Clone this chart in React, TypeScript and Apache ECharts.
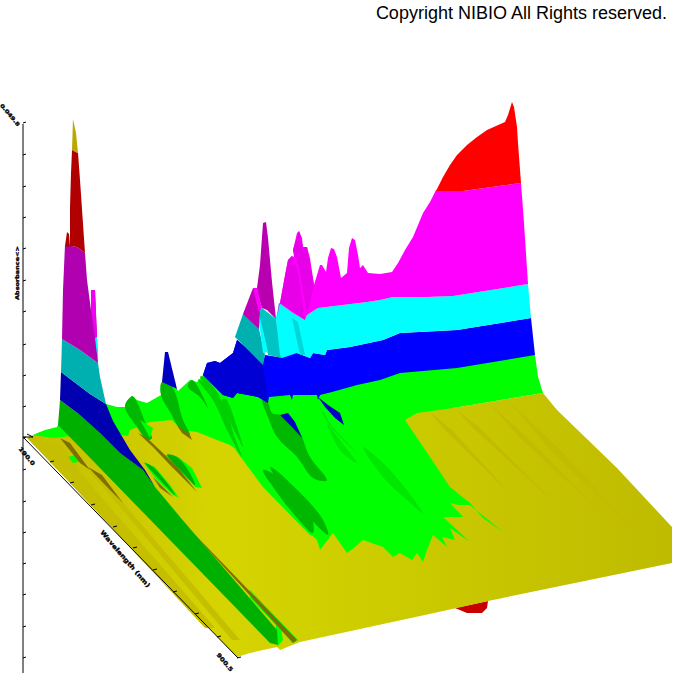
import React, { useEffect, useRef } from "react";
import * as echarts from "echarts";

type P = [number, number][];

// Outlines, in the picture's projected plane
const undersideRed: P = [[455,608],[488,601],[487,608],[482,613],[467,613]];
const floor: P = [[27,438],[237,657],[250,653],[277,647],[280,650],[300,642],[457,608],[488,601],[672,563],[672,527],[617,468],[557,410],[543,393],[453,408],[300,400],[100,420],[40,432]];
const floorStreaks: P[] = [
  [[457,410],[480,428],[552,500],[550,499],[472,427]],
  [[430,412],[452,430],[505,488],[502,486],[445,430]],
  [[490,404],[530,440],[600,512],[598,510],[520,438]],
  [[510,402],[560,450],[640,535],[636,532],[550,450]],
];
const leftFloorShade: P[] = [
  [[88,470],[102,478],[240,640],[232,640],[110,495]],
  [[30,440],[60,445],[95,490],[215,628],[205,628]],
];
const greenBase: P = [[33,435],[45,430],[57,427],[59,422],[106,404],[117,407],[126,407],[132,396],[137,400],[147,403],[161,395],[162,382],[177,389],[178,391],[190,380],[197,382],[203,375],[300,360],[535,355],[538,377],[543,393],[453,408],[417,413],[405,420],[430,457],[450,487],[470,503],[483,518],[503,532],[470,505],[458,505],[450,503],[463,517],[443,517],[470,542],[457,533],[450,528],[455,540],[442,537],[447,547],[433,535],[427,550],[423,562],[417,553],[412,560],[400,553],[393,557],[383,547],[363,540],[355,547],[347,553],[333,533],[320,550],[317,540],[293,517],[263,483],[237,450],[230,445],[217,440],[197,432],[182,430],[172,420],[150,422],[130,430],[128,436],[100,432],[63,437],[53,438]];
const olivePatch: P = [[233,445],[263,478],[317,537],[310,535],[263,487],[237,452]];
const blueBand: P = [[203,375],[207,363],[215,361],[220,363],[233,353],[237,340],[263,362],[265,355],[278,357],[282,353],[297,353],[310,358],[313,353],[325,355],[327,350],[350,347],[383,340],[400,333],[457,330],[531,318],[535,355],[457,368],[400,373],[380,380],[357,385],[332,392],[328,393],[320,395],[318,400],[317,395],[293,395],[292,400],[290,395],[269,397],[268,403],[258,397],[237,393],[233,398],[223,395]];
const blueShade: P = [[203,375],[207,363],[215,361],[220,363],[233,353],[237,340],[263,362],[268,403],[258,397],[237,393],[233,398],[223,395]];
const cyanBand: P = [[276,318],[279,303],[293,313],[305,320],[307,315],[318,308],[367,302],[380,300],[393,297],[427,297],[453,296],[528,284],[531,318],[457,330],[400,333],[383,340],[350,347],[327,350],[325,355],[313,353],[310,358],[297,353],[282,358],[278,357]];
const cyanStreak: P = [[292,318],[298,322],[305,355],[300,355]];
const tealBand: P = [[235,337],[243,314],[258,315],[259,329],[265,355],[263,365]];
const tealPeak: P = [[258,313],[262,308],[276,319],[280,355],[282,358],[268,355],[263,332]];
const cyanSliver: P = [[258,315],[263,353],[268,352],[260,318]];
const magentaBand: P = [[277,318],[280,303],[285,275],[288,260],[292,256],[294,257],[293,250],[297,233],[299,231],[302,238],[303,247],[307,247],[310,258],[314,285],[320,265],[322,265],[326,272],[328,258],[331,248],[334,249],[337,257],[341,278],[347,273],[349,248],[352,238],[355,240],[358,255],[360,268],[363,265],[368,273],[380,274],[392,272],[398,263],[405,250],[413,237],[423,213],[430,202],[436,190],[463,191],[521,183],[524,223],[528,284],[453,296],[427,297],[393,297],[380,300],[367,302],[318,308],[307,315],[305,320],[293,313],[279,303]];
const magentaShades: P[] = [
  [[280,303],[288,260],[292,256],[298,272],[305,320],[288,308]],
  [[293,250],[299,231],[303,247],[307,247],[314,285],[307,315],[300,272]],
];
const magentaHump: P = [[243,314],[253,288],[257,288],[260,305],[259,329]];
const magentaPeak: P = [[257,288],[260,265],[263,223],[266,222],[268,238],[272,282],[276,319],[267,310],[262,308],[258,295]];
const magentaEdge: P = [[253,288],[257,288],[262,308],[259,312]];
const redCap: P = [[436,191],[443,177],[450,165],[457,155],[467,145],[477,137],[487,130],[505,122],[508,115],[512,102],[514,107],[517,127],[518,143],[521,183],[463,191]];
const ridgeDark: P[] = [
  [[125,407],[132,396],[137,402],[147,427],[152,438],[147,440],[137,427]],
  [[161,395],[162,382],[173,388],[183,420],[190,435],[182,432],[170,412]],
  [[188,387],[192,380],[198,387],[208,408],[200,397]],
  [[262,400],[268,403],[272,413],[280,415],[297,427],[310,457],[327,480],[313,478],[297,457],[277,437],[268,417]],
  [[263,470],[283,480],[307,503],[313,533],[293,513],[273,487]],
  [[270,467],[285,478],[320,515],[328,535],[305,513],[283,488]],
];
const ridgeMid: P[] = [
  [[198,380],[205,383],[223,403],[235,438],[242,457],[227,430],[213,400]],
  [[200,377],[205,377],[220,397],[213,392]],
  [[222,400],[227,400],[237,427],[243,447],[238,438],[228,417]],
];
const ridgeFaint: P[] = [
  [[320,407],[333,427],[357,453],[343,440],[328,423]],
  [[363,447],[390,470],[423,513],[407,500],[383,477]],
  [[327,423],[340,440],[357,463],[340,450]],
];
const blueSpike: P = [[162,382],[165,352],[168,352],[177,389]];
const blueIslands: P[] = [
  [[280,415],[288,413],[295,422],[302,438],[292,427]],
  [[318,397],[328,405],[340,413],[344,425],[335,418],[325,407]],
];
const greenFringes: P[] = [
  [[143,462],[155,467],[170,485],[179,498],[173,495],[157,480]],
  [[165,455],[178,457],[192,468],[202,488],[195,487],[180,470]],
  [[90,452],[95,453],[120,480],[130,497],[110,477]],
  [[155,487],[180,517],[176,517],[155,492]],
  [[250,590],[298,640],[293,643],[250,598]],
  [[277,647],[283,640],[280,623],[275,620],[278,645]],
  [[68,457],[75,455],[79,462],[73,463]],
  [[140,420],[150,438],[153,428]],
];
const greenBlobs: P[] = [
  [[145,463],[153,467],[167,483],[175,495],[162,482]],
  [[167,455],[177,457],[188,470],[195,485],[183,473]],
];
const brownShadows: P[] = [
  [[60,438],[70,443],[90,470],[80,463]],
  [[138,433],[147,438],[165,455],[180,470],[197,492],[190,485],[170,465],[153,447]],
  [[177,425],[190,435],[192,440],[182,433]],
  [[145,465],[153,477],[173,497],[160,488]],
  [[88,467],[102,475],[123,503],[110,490]],
  [[190,530],[207,547],[297,640],[293,643],[233,577]],
];
const mainStrip: P = [[60,400],[80,415],[100,433],[120,453],[143,470],[155,487],[180,517],[277,630],[278,645],[270,643],[63,430],[58,425]];
const spikeBlue: P = [[61,372],[90,394],[106,404],[113,421],[120,433],[130,450],[145,470],[155,487],[143,470],[120,453],[100,433],[80,415],[60,400]];
const spikeTeal: P = [[62,339],[80,350],[98,363],[100,377],[106,404],[90,394],[61,372]];
const spikeMagenta: P = [[65,245],[77,247],[85,253],[87,280],[91,310],[91,290],[95,290],[97,337],[98,363],[80,350],[62,339],[63,290]];
const spikeMagentaEdge: P = [[91,310],[91,290],[95,290],[97,337],[95,338]];
const spikeCyan: P = [[95,338],[97,337],[98,363]];
const spikeRed: P = [[72,150],[78,153],[80,180],[85,253],[77,247],[70,246],[70,207],[71,173]];
const spikeRedShoulder: P = [[65,246],[67,232],[69,234],[70,247]];
const spikeOlive: P = [[73,119],[76,133],[78,153],[72,150]];

const layers: { outline: P; paint: string; round?: boolean }[] = [
  { outline: undersideRed, paint: "#c80000" },
  { outline: floor, paint: "floor" },
  ...leftFloorShade.map((outline) => ({ outline, paint: "#c6be00" })),
  ...floorStreaks.map((outline) => ({ outline, paint: "#c2bc00" })),
  { outline: greenBase, paint: "#00ff00" },
  { outline: olivePatch, paint: "#00ff00" },
  ...ridgeFaint.map((outline) => ({ outline, paint: "#00e800", round: true })),
  ...ridgeMid.map((outline) => ({ outline, paint: "#00d000", round: true })),
  ...ridgeDark.map((outline) => ({ outline, paint: "#00b800", round: true })),
  { outline: blueBand, paint: "#0000ff" },
  { outline: blueShade, paint: "#0000d4" },
  { outline: cyanBand, paint: "#00ffff" },
  { outline: cyanStreak, paint: "#00d8d8" },
  { outline: tealBand, paint: "#00b0b0" },
  { outline: tealPeak, paint: "#00c4c4" },
  { outline: cyanSliver, paint: "#00ffff" },
  { outline: magentaBand, paint: "#ff00ff" },
  ...magentaShades.map((outline) => ({ outline, paint: "#e800e8" })),
  { outline: magentaHump, paint: "#c000b8" },
  { outline: magentaPeak, paint: "#b800b0" },
  { outline: magentaEdge, paint: "#ff00ff" },
  { outline: redCap, paint: "#ff0000" },
  { outline: blueSpike, paint: "#0000c0" },
  ...blueIslands.map((outline) => ({ outline, paint: "#0000c0" })),
  ...greenFringes.map((outline) => ({ outline, paint: "#00ff00" })),
  ...greenBlobs.map((outline) => ({ outline, paint: "#00b000", round: true })),
  ...brownShadows.map((outline) => ({ outline, paint: "#7d7000" })),
  { outline: mainStrip, paint: "#00b000" },
  { outline: spikeBlue, paint: "#0000b0" },
  { outline: spikeTeal, paint: "#00b0b0" },
  { outline: spikeMagenta, paint: "#b000b0" },
  { outline: spikeMagentaEdge, paint: "#f000f0" },
  { outline: spikeCyan, paint: "#00ffff" },
  { outline: spikeRed, paint: "#b00000" },
  { outline: spikeRedShoulder, paint: "#b00000" },
  { outline: spikeOlive, paint: "#b8a800" },
];

const axisLines: P[] = [
  [[23,124],[23,673]],
  [[23,437],[238,658]],
  [[23,437],[33,437]],
  [[27,434],[33,437]],
];
const verticalTicks: number[] = [123,155,187,218,249,281,312,345,376,407,438,470,502,533,564,595,627,658];
const depthTicks: P = [[50,462],[70,483],[91,505],[113,527],[133,548],[153,570],[173,592],[195,614],[217,637],[237,658]];

const copyright = "Copyright NIBIO All Rights reserved.";
const topLabel = "0.049.8";
const yTitle = "Absorbance<>";
const xTitle = "Wavelength (nm)";
const xStartLabel = "190.0";
const xEndLabel = "900.5";

const W = 673;

export default function App() {
  const ref = useRef<HTMLDivElement>(null);
  useEffect(() => {
    const chart = echarts.init(ref.current!, null, { renderer: "svg" });
    const floorFill = new echarts.graphic.LinearGradient(0, 0, 1, 0, [
      { offset: 0, color: "#c4be00" },
      { offset: 0.3, color: "#d6d400" },
      { offset: 0.55, color: "#cccc00" },
      { offset: 1, color: "#bfbb00" },
    ]);
    const smear = (text: string, x: number, y: number, rotation: number, fontSize: number) => ({
      type: "text", x, y, rotation, scaleY: 0.8,
      style: { text, font: `bold ${fontSize}px "DejaVu Sans"`, fill: "#000", stroke: "#000", lineWidth: 0.4, align: "center", verticalAlign: "middle" },
    });
    chart.setOption({
      animation: false,
      backgroundColor: "#fff",
      grid: { left: 0, right: 0, top: 0, bottom: 0 },
      xAxis: { type: "value", min: 0, max: W, show: false },
      yAxis: { type: "value", min: 0, max: W, inverse: true, show: false },
      graphic: [
        { type: "text", x: 667, y: 13, style: { text: copyright, font: '18px "Liberation Sans"', fill: "#000", align: "right", verticalAlign: "middle" } },
        smear(topLabel, 10, 115, -0.87, 6.5),
        smear(yTitle, 17, 273, Math.PI / 2, 6.5),
        smear(xTitle, 125, 559, -0.86, 7.5),
        smear(xStartLabel, 27, 456, -0.87, 7),
        smear(xEndLabel, 225, 662, -0.87, 7),
      ],
      series: [
        {
          type: "custom",
          coordinateSystem: "cartesian2d",
          silent: true,
          clip: false,
          data: layers.map((_, i) => [i]),
          renderItem: (params: any, api: any) => {
            const layer = layers[params.dataIndex];
            return {
              type: "polygon",
              shape: { points: layer.outline.map((p) => api.coord(p)), smooth: layer.round ? 0.35 : 0 },
              style: { fill: layer.paint === "floor" ? floorFill : layer.paint, stroke: null },
            };
          },
        },
        {
          type: "custom",
          coordinateSystem: "cartesian2d",
          silent: true,
          clip: false,
          data: axisLines.map((_, i) => [i]),
          renderItem: (params: any, api: any) => {
            const [a, b] = axisLines[params.dataIndex];
            const s = api.coord(a), e = api.coord(b);
            return { type: "line", shape: { x1: s[0], y1: s[1], x2: e[0], y2: e[1] }, style: { stroke: "#000", lineWidth: 1 } };
          },
        },
        {
          type: "custom",
          coordinateSystem: "cartesian2d",
          silent: true,
          clip: false,
          data: verticalTicks.map((y) => [23, y]),
          renderItem: (_: any, api: any) => {
            const s = api.coord([api.value(0), api.value(1)]);
            return { type: "line", shape: { x1: s[0], y1: s[1], x2: s[0] + 3, y2: s[1] - 1 }, style: { stroke: "#000", lineWidth: 1 } };
          },
        },
        {
          type: "custom",
          coordinateSystem: "cartesian2d",
          silent: true,
          clip: false,
          data: depthTicks,
          renderItem: (_: any, api: any) => {
            const s = api.coord([api.value(0), api.value(1)]);
            return { type: "line", shape: { x1: s[0], y1: s[1], x2: s[0] + 4, y2: s[1] - 1 }, style: { stroke: "#000", lineWidth: 1 } };
          },
        },
      ],
    });
    return () => chart.dispose();
  }, []);
  return <div ref={ref} style={{ position: "absolute", left: 0, top: 0, width: W, height: W, overflow: "hidden" }} />;
}
